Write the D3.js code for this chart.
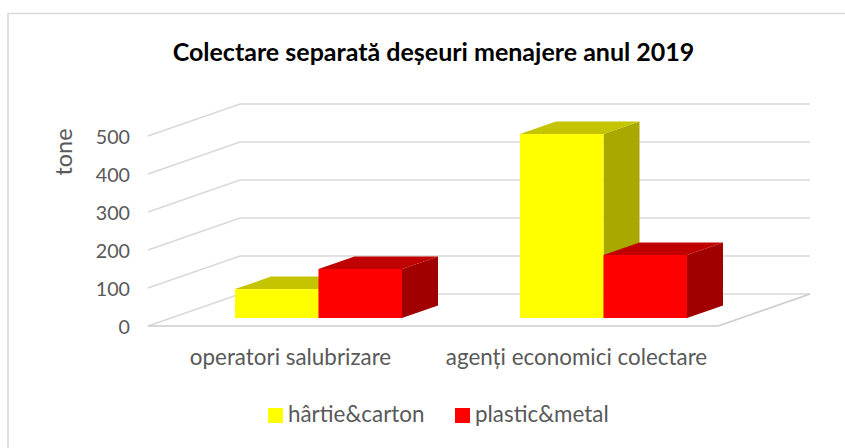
<!DOCTYPE html>
<html><head><meta charset="utf-8">
<script src="https://cdn.jsdelivr.net/npm/d3@7"></script>
<style>html,body{margin:0;background:#fff}svg{display:block}</style></head>
<body><svg id="c" width="845" height="448"></svg>
<script>
const categories = ["operatori salubrizare","agenți economici colectare"];
const seriesNames = ["hârtie&carton","plastic&metal"];
const hartieCarton = [76,484];
const plasticMetal = [129,166];
const yTicks = [0,100,200,300,400,500];
const fillFront = ["#ffff00","#ff0000"];
const fillTop = ["#c4c400","#c00000"];
const fillSide = ["#a8a800","#a00000"];
const values = [hartieCarton,plasticMetal];

const font = "Lato,sans-serif", gray="#595959";
const svg = d3.select("#c");
const defs = svg.append("defs");
defs.append("filter").attr("id","soft").append("feGaussianBlur").attr("stdDeviation",0.4);

const marks = svg.append("g").attr("filter","url(#soft)");
const framePath = d3.path(); framePath.moveTo(8,448); framePath.lineTo(8,13.5); framePath.lineTo(845,13.5);
marks.append("path").attr("d",framePath).attr("fill","none").attr("stroke","#d9d9d9").attr("stroke-width",1.6);

const y = d3.scaleLinear().domain([0,500]).range([326,136]);
const depth = {dx:92,dy:-32}, x0=148, x1=718;
const grid = marks.append("g").attr("fill","none").attr("stroke","#d9d9d9").attr("stroke-width",1.6);
yTicks.forEach(t=>{
  const p=d3.path();
  p.moveTo(x0,y(t)); p.lineTo(x0+depth.dx,y(t)+depth.dy); p.lineTo(x1+depth.dx,y(t)+depth.dy);
  grid.append("path").attr("d",p);
});
const fl=d3.path(); fl.moveTo(x0,y(0)); fl.lineTo(x1,y(0)); fl.lineTo(x1+depth.dx,y(0)+depth.dy);
grid.append("path").attr("d",fl).attr("stroke","#cccccc");

svg.append("g").selectAll("text").data(yTicks).join("text")
  .attr("x",130).attr("y",d=>y(d)+8).attr("text-anchor","end").attr("font-family",font).attr("font-size",19.7).attr("fill",gray).text(d=>d);

const xBand = d3.scaleBand().domain(categories).range([176,746]).paddingInner(0.414).paddingOuter(0.207);
const inner = d3.scaleBand().domain([0,1]).range([0,xBand.bandwidth()]);
const baseY = 318, bdx=36, bdy=-12.5;
const yOff = baseY-y(0);
const order=[];
categories.forEach((c,i)=>[0,1].forEach(s=>order.push({c,i,s,v:values[s][i]})));
const bars = marks.append("g").selectAll("g").data(order).join("g");
bars.each(function(d){
  const g=d3.select(this), l=xBand(d.c)+inner(d.s), r=l+inner.bandwidth(), t=y(d.v)+yOff;
  g.append("polygon").attr("points",[[r,t],[r+bdx,t+bdy],[r+bdx,baseY+bdy],[r,baseY]].join(" ")).attr("fill",fillSide[d.s]);
  g.append("polygon").attr("points",[[l,t],[l+bdx,t+bdy],[r+bdx,t+bdy],[r,t]].join(" ")).attr("fill",fillTop[d.s]);
  g.append("rect").attr("x",l).attr("y",t).attr("width",r-l).attr("height",baseY-t).attr("fill",fillFront[d.s]);
});

svg.append("text").attr("x",433.5).attr("y",61).attr("text-anchor","middle").attr("font-family",font)
  .attr("font-weight",700).attr("font-size",25).attr("fill","#000").text("Colectare separată deșeuri menajere anul 2019");
svg.append("text").attr("transform","translate(72,152) rotate(-90)").attr("text-anchor","middle").attr("font-family",font)
  .attr("font-size",23.4).attr("fill",gray).text("tone");
svg.append("g").selectAll("text").data(categories).join("text")
  .attr("x",(d,i)=>[290.5,576.5][i]).attr("y",365).attr("text-anchor","middle").attr("font-family",font).attr("font-size",22.4).attr("fill",gray).text(d=>d);

const lx=[268,455], tx=[288,475];
seriesNames.forEach((n,i)=>{
  svg.append("rect").attr("x",lx[i]).attr("y",408).attr("width",15).attr("height",15).attr("fill",fillFront[i]);
  svg.append("text").attr("x",tx[i]).attr("y",422).attr("font-family",font).attr("font-size",22.4).attr("fill",gray).text(n);
});
</script></body></html>
